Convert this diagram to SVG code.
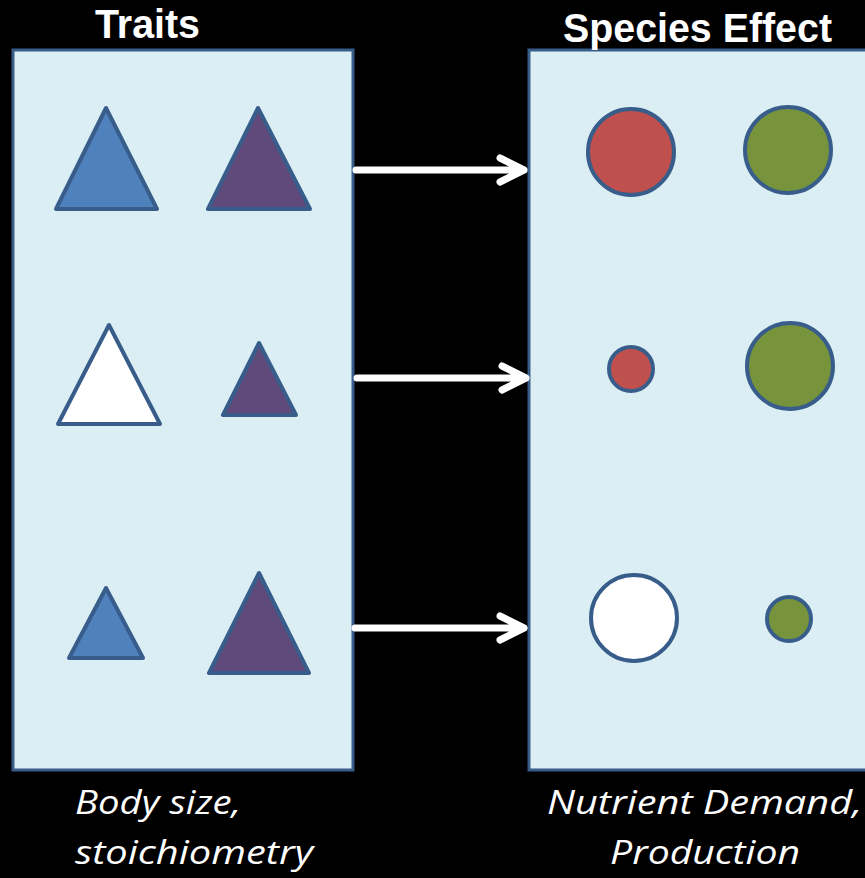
<svg xmlns="http://www.w3.org/2000/svg" width="865" height="878" viewBox="0 0 865 878">
  <style>
    .panel { fill: #DBEEF4; stroke: #385D8A; stroke-width: 3; }
    .shape { stroke: #385D8A; stroke-width: 4; stroke-linejoin: round; }
    .blue { fill: #4F81BD; }
    .purple { fill: #604A7B; }
    .red { fill: #C0504D; }
    .green { fill: #77933C; }
    .white { fill: #FFFFFF; }
    .title { font-family: "Liberation Sans", "Open Sans", sans-serif; font-weight: bold; fill: #FFFFFF; }
    .caption { font-family: "Open Sans", "Liberation Sans", sans-serif; font-style: italic; fill: #FFFFFF; font-size: 33px; }
    .arrow { fill: none; stroke: #FFFFFF; stroke-width: 7; stroke-linecap: round; stroke-linejoin: round; }
  </style>
  <rect width="865" height="878" fill="#000000"/>

  <!-- Traits panel -->
  <g id="traits">
    <rect class="panel" x="13" y="50" width="340" height="720"/>
    <text class="title" x="95" y="38" font-size="41" textLength="105" lengthAdjust="spacingAndGlyphs">Traits</text>
    <polygon class="shape blue" points="106,108 56,209 157,209"/>
    <polygon class="shape purple" points="258,108 208,209 310,209"/>
    <polygon class="shape white" points="109,325 58,424 160,424"/>
    <polygon class="shape purple" points="259,343 223,415 296,415"/>
    <polygon class="shape blue" points="106,588 69,658 143,658"/>
    <polygon class="shape purple" points="259,573 209,673 309,673"/>
    <text class="caption" x="75" y="814" textLength="166" lengthAdjust="spacingAndGlyphs">Body size,</text>
    <text class="caption" x="75" y="864" textLength="238" lengthAdjust="spacingAndGlyphs">stoichiometry</text>
  </g>

  <!-- Species effect panel -->
  <g id="species-effect">
    <rect class="panel" x="529" y="50" width="360" height="720"/>
    <text class="title" x="563" y="42" font-size="40" textLength="269" lengthAdjust="spacingAndGlyphs">Species Effect</text>
    <circle class="shape red" cx="631" cy="152" r="43"/>
    <circle class="shape green" cx="788" cy="150" r="43"/>
    <circle class="shape red" cx="631" cy="369" r="22"/>
    <circle class="shape green" cx="790" cy="366" r="43"/>
    <circle class="shape white" cx="634" cy="618" r="43"/>
    <circle class="shape green" cx="789" cy="619" r="22"/>
    <text class="caption" x="547" y="814" textLength="315" lengthAdjust="spacingAndGlyphs">Nutrient Demand,</text>
    <text class="caption" x="610" y="864" textLength="190" lengthAdjust="spacingAndGlyphs">Production</text>
  </g>

  <!-- Connectors -->
  <g id="connectors">
    <path class="arrow" d="M356,170 H524 M500,158 L524,170 L500,182"/>
    <path class="arrow" d="M357,378 H526 M502,366 L526,378 L502,390"/>
    <path class="arrow" d="M355,628 H524 M500,616 L524,628 L500,640"/>
  </g>
</svg>
